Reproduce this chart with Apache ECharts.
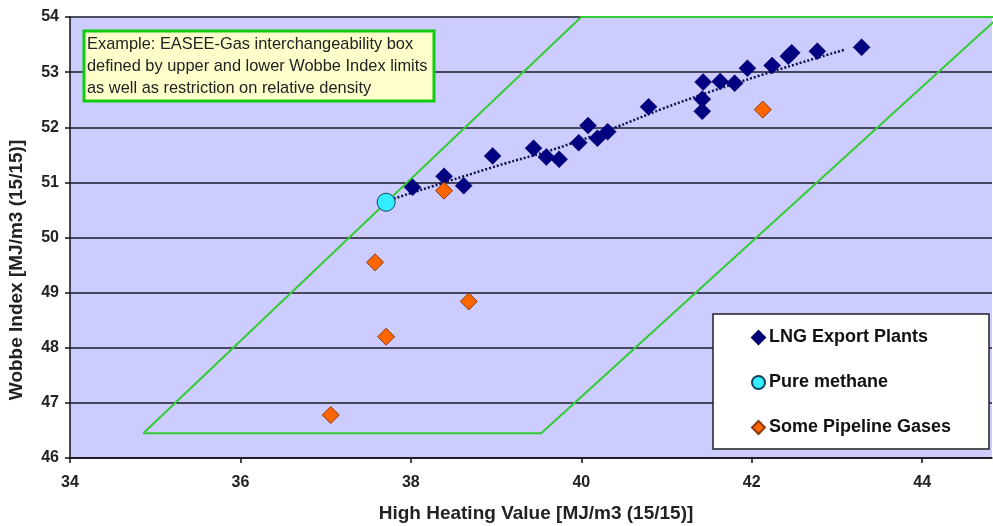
<!DOCTYPE html>
<html>
<head>
<meta charset="utf-8">
<script src="https://cdn.jsdelivr.net/npm/echarts@6/dist/echarts.min.js"></script>
<style>
html,body{margin:0;padding:0;background:#fff;}
#chart{width:993px;height:526px;}
</style>
</head>
<body>
<div id="chart"></div>
<script>
// ---- data ----
const lngPlants = [
  [38.02, 50.91], [38.39, 51.11], [38.62, 50.94], [38.96, 51.48],
  [39.44, 51.62], [39.59, 51.46], [39.74, 51.42], [39.97, 51.72],
  [40.08, 52.03], [40.19, 51.80], [40.31, 51.92], [40.79, 52.37],
  [41.42, 52.29], [41.42, 52.51], [41.43, 52.82], [41.63, 52.83],
  [41.80, 52.80], [41.95, 53.07], [42.24, 53.12], [42.43, 53.29],
  [42.47, 53.35], [42.77, 53.38], [43.29, 53.45]
];
const pureMethane = [[37.71, 50.64]];
const pipelineGases = [
  [38.39, 50.85], [42.13, 52.32], [37.58, 49.55],
  [38.68, 48.84], [37.71, 48.20], [37.06, 46.78]
];
const trendLine = [[37.71, 50.66], [38.93, 51.26], [39.91, 51.72], [41.43, 52.60], [43.10, 53.41]];
const easeeBox = [[34.86, 46.45], [39.53, 46.45], [44.90, 54.0], [40.0, 54.0], [34.86, 46.45]];
const seriesNames = ['LNG Export Plants', 'Pure methane', 'Some Pipeline Gases'];
const noteLines = [
  'Example: EASEE-Gas interchangeability box',
  'defined by upper and lower Wobbe Index limits',
  'as well as restriction on relative density'
];
const xTitle = 'High Heating Value [MJ/m3 (15/15)]';
const yTitle = 'Wobbe Index [MJ/m3 (15/15)]';

const FONT = '"Liberation Sans", Arial, sans-serif';
const chart = echarts.init(document.getElementById('chart'), null, {renderer: 'canvas'});

const option = {
  animation: false,
  backgroundColor: '#ffffff',
  grid: {left: 70, top: 17, right: 1, bottom: 68, show: true, backgroundColor: '#ccccff', borderWidth: 0},
  xAxis: {
    type: 'value', min: 34, max: 44.82, interval: 2,
    axisLine: {show: true, onZero: false, lineStyle: {color: '#111', width: 1.5}},
    axisTick: {show: true, length: 5, lineStyle: {color: '#111', width: 1.5}},
    axisLabel: {showMaxLabel: false, margin: 17, fontFamily: FONT, fontSize: 16, fontWeight: 'bold', color: '#222'},
    splitLine: {show: false}
  },
  yAxis: {
    type: 'value', min: 46, max: 54, interval: 1,
    axisLine: {show: true, onZero: false, lineStyle: {color: '#111', width: 1.5}},
    axisTick: {show: true, length: 5, lineStyle: {color: '#111', width: 1.5}},
    axisLabel: {margin: 11, fontFamily: FONT, fontSize: 16, fontWeight: 'bold', color: '#222'},
    splitLine: {show: true, lineStyle: {color: '#1a1a2a', width: 1.5}}
  },
  legend: {
    data: seriesNames,
    orient: 'vertical', left: 751, top: 327, padding: 0,
    itemWidth: 13, itemHeight: 13, itemGap: 24, z: 20,
    textStyle: {fontFamily: FONT, fontSize: 18, fontWeight: 'bold', color: '#111', lineHeight: 21, padding: [0, 0, 0, -1]}
  },
  graphic: [
    {type: 'rect', z: 15, shape: {x: 713, y: 314, width: 276, height: 135},
     style: {fill: '#ffffff', stroke: '#222', lineWidth: 1.5}},
    {type: 'rect', z: 15, shape: {x: 84, y: 31, width: 350, height: 70},
     style: {fill: '#ffffcc', stroke: '#11cc11', lineWidth: 3}},
    {type: 'text', z: 16, left: 87, top: 33,
     style: {text: noteLines.join('\n'), fontFamily: FONT, fontSize: 16.4, lineHeight: 22, fill: '#222'}},
    {type: 'text', z: 16, x: 536, y: 514,
     style: {text: xTitle, fontFamily: FONT, fontSize: 19, fontWeight: 'bold', fill: '#222', align: 'center', verticalAlign: 'middle'}},
    {type: 'text', z: 16, x: 17, y: 270, rotation: Math.PI / 2,
     style: {text: yTitle, fontFamily: FONT, fontSize: 19, fontWeight: 'bold', fill: '#222', align: 'center', verticalAlign: 'middle'}}
  ],
  series: [
    {
      name: 'box', type: 'line', data: easeeBox, symbol: 'none', clip: false, z: 3,
      lineStyle: {color: '#33cc33', width: 2}
    },
    {
      name: 'trend', type: 'line', data: trendLine, symbol: 'none', smooth: true, z: 4,
      lineStyle: {color: '#10104a', width: 2.5, type: [2, 2]}
    },
    {
      name: seriesNames[0], type: 'scatter', data: lngPlants, symbol: 'diamond', symbolSize: 17, z: 5,
      itemStyle: {color: '#000080', borderColor: '#000066', borderWidth: 0.5, opacity: 1}
    },
    {
      name: seriesNames[1], type: 'scatter', data: pureMethane, symbol: 'circle', symbolSize: 18, z: 6,
      itemStyle: {color: '#33eeff', borderColor: '#104060', borderWidth: 1, opacity: 1}
    },
    {
      name: seriesNames[2], type: 'scatter', data: pipelineGases, symbol: 'diamond', symbolSize: 17, z: 6,
      itemStyle: {color: '#ff6600', borderColor: '#8a3a10', borderWidth: 1, opacity: 1}
    }
  ]
};
chart.setOption(option);
</script>
</body>
</html>
